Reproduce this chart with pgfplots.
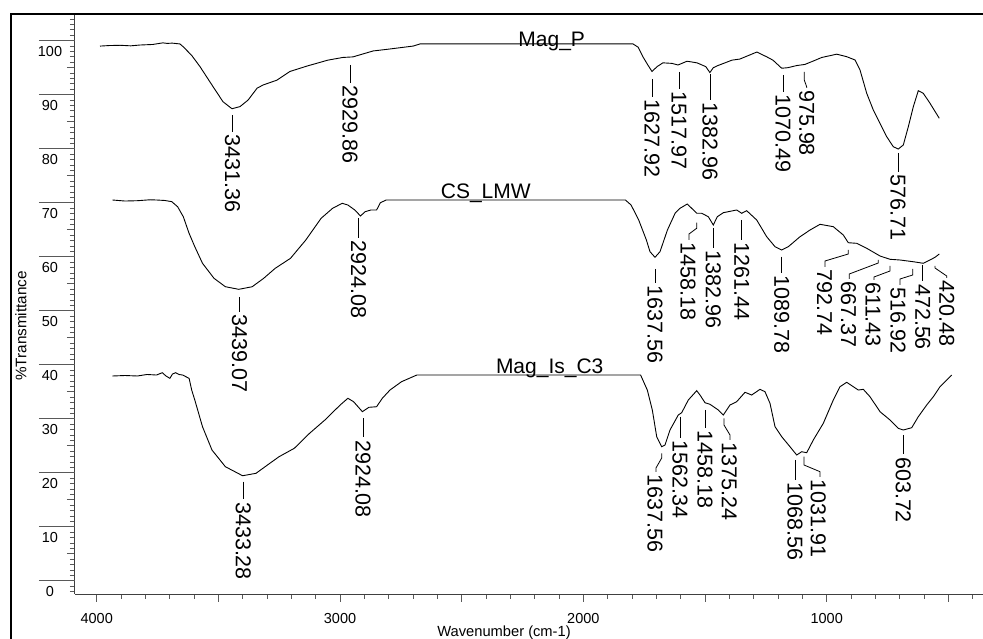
\documentclass[border=0pt]{standalone}
\usepackage{fontspec}
\setmainfont{Liberation Sans}
\usepackage{pgfplots}
\pgfplotsset{compat=1.18}
\begin{document}
\begin{tikzpicture}
\tikzset{ld/.style={black,line width=0.8bp},
  lab/.style={font=\fontsize{21.5bp}{22bp}\selectfont, rotate=-90, inner sep=0pt, anchor=west}}
\newcommand\pk[4]{\draw[ld] (#1,#2) -- (#1,#3); \node[lab] at (#1,#3+2.5) {#4};}
\begin{axis}[
  at={(0,0)}, anchor=south west,
  scale only axis, width=908bp, height=579bp,
  x dir=reverse, xmin=357.7, xmax=4089.2, ymin=-2.46, ymax=104.76,
  axis lines*=left,
  axis line style={black!75, line width=1bp},
  tick align=outside,
  tick style={black!65, line width=0.8bp},
  major tick length=8bp, minor tick length=5bp,
  xtick={500,1000,...,4000},
  xticklabels={,1000,,2000,,3000,,4000},
  minor xtick={400,500,...,4000},
  ytick={0,5,...,100},
  yticklabels={0,,10,,20,,30,,40,,50,,60,,70,,80,,90,,100},
  minor ytick={-2,-1,...,104},
  /pgf/number format/assume math mode=true,
  xticklabel style={font=\fontsize{14.5bp}{15bp}\selectfont, anchor=north, inner sep=0pt, yshift=-10.8bp},
  yticklabel style={font=\fontsize{14.5bp}{15bp}\selectfont, anchor=north, inner sep=0pt, xshift=-17bp, yshift=-5.3bp},
  xlabel={Wavenumber (cm-1)},
  ylabel={\%Transmittance},
  every axis x label/.style={at={(axis description cs:0.4725,0)}, anchor=base, yshift=-42.5bp, font=\fontsize{14.7bp}{15bp}\selectfont},
  every axis y label/.style={at={(axis description cs:-0.0595,0.4629)}, anchor=center, rotate=90, font=\fontsize{15.3bp}{16bp}\selectfont},
]
% Mag_P
\addplot[black, line width=0.9bp, mark=none] coordinates {(3986.4,99.0)(3950,99.1)(3904,99.15)(3860,99.05)(3822,99.2)(3770,99.3)(3728,99.6)(3710,99.5)(3690,99.55)(3658,99.4)(3645,98.9)(3610,97.3)(3575.5,95.2)(3522,91.5)(3481,88.7)(3444,87.4)(3411,87.8)(3378,89.0)(3341,91.2)(3316,91.8)(3259,92.7)(3206,94.3)(3136,95.3)(3050,96.4)(2988,96.9)(2947,97.0)(2864,98.1)(2807,98.4)(2700,99.0)(2671,99.4)(1796,99.4)(1775,98.8)(1755,97.0)(1735,95.5)(1718,94.3)(1697,95.2)(1673,95.9)(1636,95.8)(1611,95.5)(1574,96.2)(1533,95.9)(1497,95.2)(1480,94.1)(1466,95.0)(1447,95.4)(1389,96.4)(1357,96.6)(1287,97.9)(1246,97.0)(1221,96.4)(1185,94.9)(1160,95.0)(1123,95.4)(1090,95.6)(1057,96.2)(1020,96.9)(958.9,97.5)(917.8,97.04)(883.7,96.43)(863.1,94.58)(835.6,90.26)(808.5,87.17)(780.9,84.70)(753.4,82.22)(726.3,80.37)(705.8,79.94)(685.2,80.68)(664.6,84.07)(644.1,87.77)(623.6,90.74)(603.0,90.26)(575.5,88.41)(537.3,85.63)};
% CS_LMW
\addplot[black, line width=0.9bp, mark=none] coordinates {(3935.1,70.50)(3883.7,70.31)(3832.7,70.37)(3780.9,70.54)(3754.2,70.50)(3719.3,70.41)(3691.4,70.19)(3667.5,69.26)(3644.1,67.41)(3620.3,64.33)(3596.8,61.85)(3565.2,58.78)(3517.9,56.0)(3471.1,54.44)(3416.0,53.96)(3361.0,54.44)(3313.7,56.0)(3266.4,57.85)(3203.6,59.70)(3140.7,63.09)(3077.8,67.11)(3030.6,68.96)(2991.1,69.89)(2967.7,69.57)(2939.3,68.65)(2915.9,67.54)(2897.0,68.33)(2873.2,68.65)(2849.7,68.65)(2834.1,70.0)(2810.3,70.50)(1827.3,70.50)(1803.8,69.57)(1772.6,66.80)(1741.0,63.09)(1726.2,60.93)(1705.6,59.89)(1685.0,60.93)(1654.6,64.94)(1623.1,68.04)(1602.9,68.96)(1572.9,69.76)(1554.8,68.96)(1534.2,68.04)(1513.7,68.04)(1486.6,67.41)(1466.0,65.87)(1449.6,67.41)(1424.9,68.15)(1369.9,68.65)(1349.3,68.04)(1328.8,68.52)(1287.7,66.80)(1246.6,63.70)(1212.4,61.85)(1184.9,61.24)(1157.8,61.85)(1109.7,63.70)(1068.6,64.94)(1027.5,66.0)(972.9,65.56)(931.8,64.02)(911.2,62.59)(876.7,62.48)(835.6,61.56)(780.9,60.13)(739.8,59.52)(698.7,59.39)(644.1,59.07)(603.0,58.78)(575.5,59.39)(555.0,59.89)(537.3,60.50)};
% Mag_Is_C3
\addplot[black, line width=0.9bp, mark=none] coordinates {(3935.1,37.91)(3883.7,38.0)(3832.7,37.91)(3793.3,38.19)(3754.2,38.09)(3730.4,38.52)(3715.2,37.91)(3699.2,37.48)(3688.5,38.28)(3675.3,38.52)(3661.8,38.19)(3647.0,38.09)(3620.3,37.48)(3609.6,35.31)(3596.8,33.46)(3565.2,28.52)(3526.2,24.20)(3471.1,21.11)(3400.4,19.44)(3345.3,19.89)(3298.1,21.43)(3250.8,22.96)(3187.9,24.52)(3125.1,27.30)(3062.2,29.76)(2999.3,32.54)(2967.7,33.78)(2944.3,33.15)(2908.1,31.30)(2881.4,32.11)(2849.7,32.22)(2826.3,33.78)(2794.7,35.31)(2747.4,36.85)(2684.5,38.09)(1764.8,38.09)(1737.2,35.31)(1716.6,31.61)(1698.6,26.67)(1678.1,24.81)(1664.5,25.13)(1644.0,27.91)(1609.9,30.69)(1595.9,31.11)(1568.8,33.46)(1534.2,35.19)(1520.7,34.39)(1500.1,32.96)(1479.6,32.67)(1445.4,31.61)(1424.9,30.69)(1397.4,32.54)(1369.9,33.15)(1335.8,34.89)(1308.2,34.39)(1274.1,35.44)(1253.6,35.0)(1233.0,32.85)(1212.4,28.52)(1184.9,26.67)(1150.8,24.81)(1123.3,23.28)(1102.7,23.89)(1082.2,23.70)(1055.0,26.06)(1013.9,29.15)(972.9,33.46)(945.3,35.93)(917.8,36.74)(890.7,35.93)(870.1,35.31)(849.6,35.44)(822.0,34.07)(780.9,31.30)(739.8,29.76)(705.8,28.22)(685.2,27.91)(650.7,28.33)(623.6,30.37)(589.0,32.54)(561.9,34.07)(534.4,35.93)(506.8,37.17)(486.3,38.09)};
\end{axis}
\begin{scope}[x=1bp, y=-1bp, shift={(-75bp,594bp)}]
\draw[black, line width=2bp] (11,700) -- (11,14) -- (1000,14);
% long major y ticks
\foreach \t in {0,...,10} \draw[black!65, line width=0.8bp] (39,580.7-54*\t) -- (75,580.7-54*\t);
\tikzset{nm/.style={font=\fontsize{21bp}{22bp}\selectfont, anchor=base, inner sep=0pt}}
\node[nm] at (551.7,46.7) {Mag\_P};
\node[nm] at (485.8,198.5) {CS\_LMW};
\node[nm] at (549.7,374) {Mag\_Is\_C3};
% Mag_P peaks
\pk{232.5}{115}{132}{3431.36}
\pk{350}{65}{83}{2929.86}
\pk{652}{79}{97}{1627.92}
\pk{679}{72}{89}{1517.97}
\pk{710}{74}{100}{1382.96}
\pk{783}{75}{92}{1070.49}
\draw[ld] (804.3,72) -- (804.3,80) -- (806.7,87) -- (806.7,88);
\node[lab] at (806.7,90) {975.98};
\pk{898}{153}{172}{576.71}
% CS_LMW peaks
\pk{239.5}{297}{312}{3439.07}
\pk{358.5}{218}{238}{2924.08}
\pk{655}{269}{283}{1637.56}
\draw[ld] (696.7,222.7) -- (696.7,228.3) -- (689,234) -- (689,240);
\node[lab] at (688,242.5) {1458.18};
\pk{713.3}{228.3}{248.3}{1382.96}
\pk{741.7}{220}{240}{1261.44}
\pk{781.7}{256.7}{273.3}{1089.78}
\draw[ld] (848.3,250) -- (848.3,254) -- (825,261) -- (825,267);
\node[lab] at (824.5,269.5) {792.74};
\draw[ld] (878.3,260) -- (878.3,263) -- (849.3,274) -- (849.3,279);
\node[lab] at (848.5,281.5) {667.37};
\draw[ld] (890,266) -- (890,271) -- (874,277) -- (874,280);
\node[lab] at (873,282.5) {611.43};
\draw[ld] (912.7,269) -- (912.7,275) -- (900,279) -- (900,285);
\node[lab] at (898,287.5) {516.92};
\pk{922.7}{265}{281.5}{472.56}
\draw[ld] (935,266) -- (935,268) -- (946.7,276) -- (946.7,278);
\node[lab] at (946.7,280.5) {420.48};
% Mag_Is_C3 peaks
\pk{243.3}{481.7}{499.5}{3433.28}
\pk{363}{418.3}{437.5}{2924.08}
\draw[ld] (661.7,453.3) -- (661.7,458) -- (656,468) -- (656,472);
\node[lab] at (655,474.5) {1637.56};
\pk{680}{416.7}{438.3}{1562.34}
\pk{705}{410}{428.3}{1458.18}
\draw[ld] (724,418.3) -- (724,425) -- (730,435) -- (730,440);
\node[lab] at (729.3,442.5) {1375.24};
\pk{795}{460}{480}{1068.56}
\draw[ld] (804,456.7) -- (804,465) -- (820,471.7) -- (820,477);
\node[lab] at (818.3,479.5) {1031.91};
\pk{903.3}{435}{454.5}{603.72}
\end{scope}
\pgfresetboundingbox
\useasboundingbox (-75bp,-45bp) rectangle (908bp,594bp);
\end{tikzpicture}
\end{document}
